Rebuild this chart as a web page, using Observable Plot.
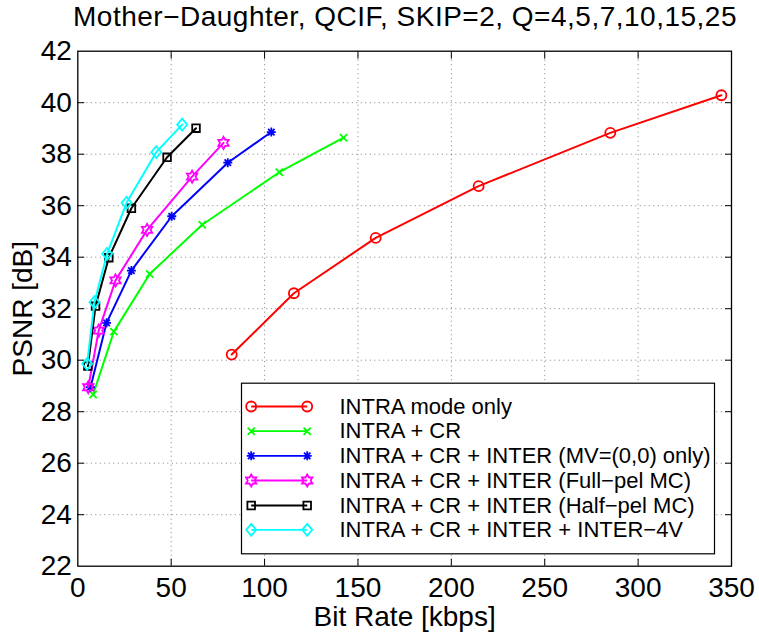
<!DOCTYPE html>
<html><head><meta charset="utf-8">
<script src="https://cdn.jsdelivr.net/npm/d3@7"></script>
<script src="https://cdn.jsdelivr.net/npm/@observablehq/plot@0.6"></script>
<style>
html,body{margin:0;padding:0;background:#fff;overflow:hidden}
#title{box-sizing:border-box;width:759px;height:34px;line-height:34px;padding-left:51px;text-align:center;white-space:nowrap;
font-family:"Liberation Sans",Arial,sans-serif;font-size:28px;letter-spacing:0.5px;color:#000}
</style></head><body>
<div id="title">Mother−Daughter, QCIF, SKIP=2, Q=4,5,7,10,15,25</div>
<div id="chart"></div>
<script>
// ---- data ----
const seriesNames = [
  "INTRA mode only",
  "INTRA + CR",
  "INTRA + CR + INTER (MV=(0,0) only)",
  "INTRA + CR + INTER (Full−pel MC)",
  "INTRA + CR + INTER (Half−pel MC)",
  "INTRA + CR + INTER + INTER−4V"
];
const seriesColors = ["#ff0000", "#00ff00", "#0000ff", "#ff00ff", "#000000", "#00ffff"];
const seriesMarkers = ["circle", "x", "asterisk", "hexagram", "square", "diamond"];

const rateIntra      = [82.4, 115.7, 159.5, 214.6, 285.1, 344.6];
const psnrIntra      = [30.22, 32.60, 34.75, 36.76, 38.83, 40.29];
const rateCR         = [8.2, 19.3, 38.5, 66.6, 107.9, 142.3];
const psnrCR         = [28.67, 31.11, 33.35, 35.26, 37.30, 38.64];
const rateInterZero  = [6.8, 15.4, 28.7, 50.3, 80.3, 103.6];
const psnrInterZero  = [28.95, 31.45, 33.48, 35.59, 37.67, 38.86];
const rateFullPel    = [5.6, 11.2, 20.2, 37.1, 61.2, 78.0];
const psnrFullPel    = [28.95, 31.15, 33.10, 35.06, 37.13, 38.44];
const rateHalfPel    = [5.4, 9.5, 16.6, 28.7, 47.8, 63.3];
const psnrHalfPel    = [29.77, 32.10, 33.98, 35.90, 37.88, 39.01];
const rate4V         = [5.0, 8.9, 15.7, 26.1, 42.0, 55.9];
const psnr4V         = [29.86, 32.25, 34.13, 36.11, 38.08, 39.15];

const xTicks = [0, 50, 100, 150, 200, 250, 300, 350];
const yTicks = [22, 24, 26, 28, 30, 32, 34, 36, 38, 40, 42];

const rates = [rateIntra, rateCR, rateInterZero, rateFullPel, rateHalfPel, rate4V];
const psnrs = [psnrIntra, psnrCR, psnrInterZero, psnrFullPel, psnrHalfPel, psnr4V];

// ---- marker drawing (MATLAB-like) ----
const markerSize = {circle: 5, x: 3.6, asterisk: 4.5, hexagram: 6, square: 3.8, diamond: 5};
function drawMarker(ctx, kind, cx, cy) {
  const R = markerSize[kind];
  if (kind === "circle") { ctx.moveTo(cx + R, cy); ctx.arc(cx, cy, R, 0, 2 * Math.PI); }
  else if (kind === "x") { ctx.moveTo(cx - R, cy - R); ctx.lineTo(cx + R, cy + R); ctx.moveTo(cx - R, cy + R); ctx.lineTo(cx + R, cy - R); }
  else if (kind === "asterisk") {
    const d = R * 0.72;
    ctx.moveTo(cx - R, cy); ctx.lineTo(cx + R, cy); ctx.moveTo(cx, cy - R); ctx.lineTo(cx, cy + R);
    ctx.moveTo(cx - d, cy - d); ctx.lineTo(cx + d, cy + d); ctx.moveTo(cx - d, cy + d); ctx.lineTo(cx + d, cy - d);
  }
  else if (kind === "hexagram") {
    for (let k = 0; k < 12; k++) {
      const a = -Math.PI / 2 + k * Math.PI / 6;
      const rr = k % 2 === 0 ? R : R / Math.sqrt(3);
      const px = cx + rr * Math.cos(a), py = cy + rr * Math.sin(a);
      if (k === 0) ctx.moveTo(px, py); else ctx.lineTo(px, py);
    }
    ctx.closePath();
  }
  else if (kind === "square") { ctx.rect(cx - R, cy - R, 2 * R, 2 * R); }
  else if (kind === "diamond") { ctx.moveTo(cx, cy - R * 1.2); ctx.lineTo(cx + R, cy); ctx.lineTo(cx, cy + R * 1.2); ctx.lineTo(cx - R, cy); ctx.closePath(); }
}
const pointSymbol = kind => ({draw(ctx) { drawMarker(ctx, kind, 0, 0); }});
const legendSymbol = kind => ({draw(ctx) {
  ctx.moveTo(-28, 0); ctx.lineTo(28, 0);
  drawMarker(ctx, kind, -28, 0); drawMarker(ctx, kind, 28, 0);
}});

// ---- layout ----
const W = 759, H = 602;
const mL = 77.3, mR = 28, mT = 16.7, mB = 70.3;
const font = "Liberation Sans, Arial, sans-serif";

const seriesMarks = seriesNames.flatMap((name, i) => {
  const rows = rates[i].map((r, j) => ({rate: r, psnr: psnrs[i][j]}));
  return [
    Plot.line(rows, {x: "rate", y: "psnr", stroke: seriesColors[i], strokeWidth: 2}),
    Plot.dot(rows, {x: "rate", y: "psnr", stroke: seriesColors[i], fill: "none", strokeWidth: 1.8, symbol: pointSymbol(seriesMarkers[i])})
  ];
});

// legend box (axes-relative)
const legLeft = 241, legTop = 382.7 - 34, legRight = 714, legBottom = 553.3 - 34;
const legendRowsY = [406, 430.7, 455.3, 480, 505, 529.3].map(v => v - 34);
const legendMarks = [
  Plot.frame({insetLeft: legLeft - mL, insetTop: legTop - mT, insetRight: (W - mR) - legRight, insetBottom: (H - mB) - legBottom, fill: "white", stroke: "black", strokeWidth: 1.2}),
  ...seriesNames.flatMap((name, i) => [
    Plot.dot([name], {frameAnchor: "top-left", dx: 278.7 - mL, dy: legendRowsY[i] - mT, stroke: seriesColors[i], fill: "none", strokeWidth: 1.8, symbol: legendSymbol(seriesMarkers[i])}),
    Plot.text([name], {text: d => d, frameAnchor: "top-left", dx: 339 - mL, dy: legendRowsY[i] - mT, textAnchor: "start", lineAnchor: "middle", fontSize: 22, fill: "black"})
  ])
];

const chart = Plot.plot({
  width: W, height: H,
  marginLeft: mL, marginRight: mR, marginTop: mT, marginBottom: mB,
  style: {fontFamily: font, background: "white", color: "black"},
  x: {domain: [0, 350]},
  y: {domain: [22, 42]},
  marks: [
    Plot.gridX(xTicks.slice(1, -1), {stroke: "#000", strokeOpacity: 0.5, strokeDasharray: "1,3.5", strokeWidth: 1}),
    Plot.gridY(yTicks.slice(1, -1), {stroke: "#000", strokeOpacity: 0.5, strokeDasharray: "1,3.5", strokeWidth: 1}),
    Plot.axisX(xTicks, {anchor: "bottom", tickSize: 0, tickPadding: 11, fontSize: 28, label: null}),
    Plot.axisY(yTicks, {anchor: "left", tickSize: 0, tickPadding: 6, fontSize: 28, label: null}),
    Plot.axisX(xTicks.slice(1, -1), {anchor: "bottom", tickSize: -7, tickFormat: () => "", label: null}),
    Plot.axisX(xTicks.slice(1, -1), {anchor: "top", tickSize: -7, tickFormat: () => "", label: null}),
    Plot.axisY(yTicks.slice(1, -1), {anchor: "left", tickSize: -7, tickFormat: () => "", label: null}),
    Plot.axisY(yTicks.slice(1, -1), {anchor: "right", tickSize: -7, tickFormat: () => "", label: null}),
    Plot.text(["Bit Rate [kbps]"], {text: d => d, frameAnchor: "bottom", dy: 51, textAnchor: "middle", lineAnchor: "middle", fontSize: 28, fill: "black"}),
    Plot.text(["PSNR [dB]"], {text: d => d, frameAnchor: "left", dx: -54.3, rotate: -90, textAnchor: "middle", lineAnchor: "middle", fontSize: 28, fill: "black"}),
    ...seriesMarks,
    ...legendMarks,
    Plot.frame({stroke: "black", strokeWidth: 1.3})
  ]
});
document.getElementById("chart").appendChild(chart);
</script>
</body></html>
